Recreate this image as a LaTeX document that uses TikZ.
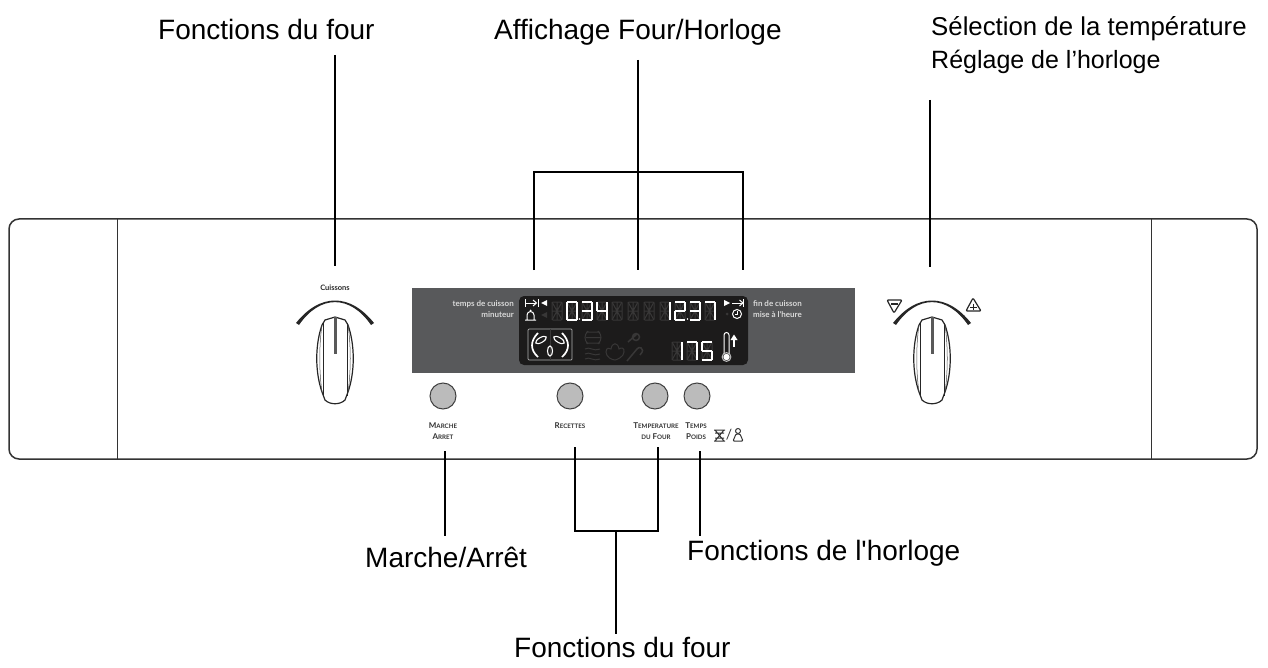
\documentclass[tikz,border=0pt]{standalone}
\usepackage{fontspec}
\setmainfont{Liberation Sans}
\newfontfamily\labelfont{Liberation Sans}
\newfontfamily\panelfont{Lato}
\definecolor{panelgrey}{HTML}{58595B}
\definecolor{screenblack}{HTML}{1C1B1B}
\definecolor{dimseg}{HTML}{383737}
\definecolor{buttongrey}{HTML}{BBBBBB}
\tikzset{
  leader/.style={line width=1.7pt},
  biglabel/.style={anchor=base west,inner sep=0pt,font=\labelfont\fontsize{28}{30}\selectfont},
  smalllabel/.style={biglabel,font=\labelfont\fontsize{25.8}{28}\selectfont},
  screenlabel/.style={inner sep=0pt,text=white!85!black,font=\panelfont\bfseries\fontsize{8}{9}\selectfont},
  keylabel/.style={inner sep=0pt,text=black!80,font=\panelfont\bfseries\fontsize{8}{9}\selectfont},
  keybutton/.style={circle,minimum size=26pt,inner sep=0pt,draw=black!75,line width=1pt,fill=buttongrey},
  segline/.style={white,line width=1.5pt},
  dimline/.style={dimseg,line width=1pt},
  iconline/.style={white,line width=1pt}
}
\newcommand{\lowc}[1]{{\fontsize{6.2}{7}\selectfont #1}}
% one seven segment digit
\newcommand{\segdigit}[3]{
  \begin{scope}[shift={(#1,#2)}]
    \coordinate (a) at (0,0); \coordinate (b) at (10,0);
    \coordinate (c) at (0,9); \coordinate (d) at (10,9);
    \coordinate (e) at (0,18); \coordinate (f) at (10,18);
    \foreach \p/\q in {#3} \draw[segline] (\p) -- (\q);
  \end{scope}
}
% unlit digit, segments only faintly visible
\newcommand{\dimdigit}[2]{
  \begin{scope}[shift={(#1,#2)}]
    \draw[dimline,rounded corners=1pt] (0,0) rectangle (10,18);
    \draw[dimline] (0,9) -- (10,9) (5,0) -- (5,18) (0,0) -- (10,18) (10,0) -- (0,18);
  \end{scope}
}
\newcommand{\panelknob}[1]{
  \begin{scope}[shift={(#1,0)}]
    \fill[black!85] (-39,323) .. controls (-15,293) and (15,293) .. (39,323) -- (36,325)
      .. controls (15,294.5) and (-15,294.5) .. (-36,325) -- cycle;
    \draw[line width=1.2pt,black!85,line join=round] (0,317) -- (10,320) -- (13,325)
      .. controls (20,345) and (20,372) .. (13,392) -- (10,400) .. controls (5,405) and (-5,405) .. (-10,400)
      -- (-13,392) .. controls (-20,372) and (-20,345) .. (-13,325) -- (-10,320) -- cycle;
    \draw[line width=.9pt,black!85] (-12,323) -- (-12,396) (12,323) -- (12,396);
    \draw[line width=.5pt,black!70] (-13,325) .. controls (-16,345) and (-16,372) .. (-13,392)
      (13,325) .. controls (16,345) and (16,372) .. (13,392);
    \draw[line width=3pt,black!65] (0,317) -- (0,354);
  \end{scope}
}
\begin{document}
\begin{tikzpicture}[x=1pt,y=-1pt]
  \useasboundingbox (0,0) rectangle (1268,668);

  % control panel
  \draw[line width=1.5pt,black!80,rounded corners=10pt] (9,219) rectangle (1257,459);
  \draw[line width=1pt,black!80] (117,219) -- (117,459);
  \draw[line width=1pt,black!80] (1151,219) -- (1151,459);

  \fill[panelgrey] (412,288) rectangle (855,373);
  \fill[screenblack,rounded corners=5pt] (519,296) rectangle (748,365);

  \node[screenlabel,anchor=east] (cuisson) at (514,304) {temps de cuisson};
  \node[screenlabel,anchor=east] (minuteur) at (514,315) {minuteur};
  \node[screenlabel,anchor=west] (fincuisson) at (753,304) {fin de cuisson};
  \node[screenlabel,anchor=west] (miseheure) at (753,315) {mise à l'heure};

  % upper row of digits
  \foreach \xpos in {552,612,628,644,660} \dimdigit{\xpos}{302};
  \foreach \xpos in {567,582,597,675,690,705} \dimdigit{\xpos}{302};
  \segdigit{567}{302}{a/b,b/d,d/f,f/e,e/c,c/a}
  \segdigit{582}{302}{a/b,b/d,d/f,f/e,c/d}
  \segdigit{597}{302}{a/c,c/d,b/d,d/f}
  \segdigit{660}{302}{b/d,d/f}
  \segdigit{675}{302}{a/b,b/d,d/c,c/e,e/f}
  \segdigit{690}{302}{a/b,b/d,d/f,f/e,c/d}
  \segdigit{705}{302}{a/b,b/d,d/f}
  \fill[white] (579.5,319) circle (.8) (687.5,319) circle (.8);

  % lower row of digits
  \foreach \xpos in {672,687,702} \dimdigit{\xpos}{342};
  \segdigit{672}{342}{b/d,d/f}
  \segdigit{687}{342}{a/b,b/d,d/f}
  \segdigit{702}{342}{b/a,a/c,c/d,d/f,f/e}

  % symbols left of the digits
  \draw[iconline] (525,299) -- (525,307) (538,299) -- (538,307) (525,303) -- (536,303);
  \draw[iconline] (533,300) -- (536.5,303) -- (533,306);
  \fill[white] (547,300) -- (547,306) -- (541,303) -- cycle;
  \fill[dimseg] (547,312) -- (547,318) -- (541,315) -- cycle;
  \draw[iconline] (525,320) -- (536,320) (527,320) -- (527,315) arc[start angle=180,end angle=360,radius=3.5] -- (534,320);
  \fill[white] (530.5,310.5) circle (1);

  % symbols right of the digits
  \fill[white] (724,300) -- (724,306) -- (730,303) -- cycle;
  \draw[iconline] (732,303) -- (743,303) (743,299) -- (743,307);
  \draw[iconline] (739.5,300) -- (743,303) -- (739.5,306);
  \draw[iconline] (737,314) circle (4.5);
  \draw[iconline,line width=.7pt] (737,311) -- (737,314.5) -- (734.5,314.5);
  \fill[dimseg] (727,314) circle (1.5);

  % thermometer
  \draw[white,line width=1pt] (724,354) -- (724,335) arc[start angle=180,end angle=360,radius=2.5] -- (729,354);
  \draw[white!75!black,line width=1pt] (726.5,357) circle (4.4);
  \fill[white] (726.5,357) circle (3.2);
  \draw[white,line width=1.4pt] (734,347) -- (734,339);
  \fill[white] (730.5,340) -- (734,334.5) -- (737.5,340) -- cycle;

  % program window with the fan
  \draw[white!70!black,line width=.7pt,rounded corners=1pt] (528,329) rectangle (572,360);
  \draw[dimline] (550,329) -- (550,360);
  \draw[white,line width=1.7pt] (538,333) .. controls (530,341) and (530,350) .. (538,357);
  \draw[white,line width=1.7pt] (562,333) .. controls (570,341) and (570,350) .. (562,357);
  \draw[white,line width=1.1pt,rotate around={30:(541,340)}] (541,340) ellipse (6 and 2.5);
  \draw[white,line width=1.1pt,rotate around={-30:(559,340)}] (559,340) ellipse (6 and 2.5);
  \draw[white,line width=1.1pt] (550,351) ellipse (2.5 and 5);

  % oven mode symbols, not lit
  \draw[dimline] (586,332) -- (600,332) (586,343) -- (600,343) (586,337.5) -- (600,337.5)
    (588,331) .. controls (584,335) and (584,340) .. (588,344) (598,331) .. controls (602,335) and (602,340) .. (598,344);
  \foreach \ypos in {349,354,359}
    \draw[dimline] (585,\ypos) .. controls (589,\ypos-3) and (594,\ypos+3) .. (600,\ypos);
  \draw[dimline] (606,352) .. controls (606,347) and (610,348) .. (611,349) .. controls (612,342) and (618,342) .. (619,349)
    .. controls (621,347) and (625,348) .. (624,352) .. controls (624,357) and (616,360) .. (615,360)
    .. controls (612,360) and (606,357) .. (606,352) -- cycle;
  \draw[dimseg,line width=1.5pt] (628,342) -- (637,334) (636,337) circle (3.5);
  \draw[dimseg,line width=1.5pt] (627,361) -- (637,349) arc[start angle=210,end angle=400,radius=3] -- (640,355);

  % keys
  \node[keybutton] (marche) at (443,396) {};
  \node[keybutton] (recettes) at (570,396) {};
  \node[keybutton] (temperature) at (655,396) {};
  \node[keybutton] (temps) at (697,396) {};

  \node[keylabel] (marchetxt) at (443,426) {M\lowc{ARCHE}};
  \node[keylabel] (arrettxt) at (443,437) {A\lowc{RRET}};
  \node[keylabel] (recettestxt) at (570,426) {R\lowc{ECETTES}};
  \node[keylabel] (temperaturetxt) at (656,426) {T\lowc{EMPERATURE}};
  \node[keylabel] (dufourtxt) at (656,437) {\lowc{DU} F\lowc{OUR}};
  \node[keylabel] (tempstxt) at (696,426) {T\lowc{EMPS}};
  \node[keylabel] (poidstxt) at (696,437) {P\lowc{OIDS}};
  \node[keylabel,font=\panelfont\fontsize{14}{14}\selectfont] (slash) at (729,435) {/};

  % hourglass and weight
  \draw[line width=1pt,black!80] (714,430) -- (725,430) (714,441) -- (725,441)
    (715,430) -- (724,441) (724,430) -- (715,441) (715,433) -- (724,433) (715,438) -- (724,438);
  \draw[line width=1pt,black!80,rounded corners=1pt] (733,441) -- (743,441) -- (740,434) -- (736,434) -- cycle;
  \draw[line width=1pt,black!80] (738,431) circle (2.5);

  % knobs
  \panelknob{335}
  \panelknob{932}
  \node[keylabel,text=black!85,font=\panelfont\bfseries\fontsize{7.5}{9}\selectfont] (cuissons) at (335,288) {Cuissons};
  \draw[line width=1.2pt,black!85,rounded corners=1pt,line join=round] (887,300) -- (902,300) -- (894,313) -- cycle;
  \draw[line width=1.5pt,black!85] (891,304) -- (898,304);
  \draw[line width=1.2pt,black!85,rounded corners=1pt,line join=round] (973,298) -- (981,311) -- (966,311) -- cycle;
  \draw[line width=1pt,black!85] (970,307) -- (977,307) (973.5,303.5) -- (973.5,310);

  % labels above
  \node[biglabel] (fourhaut) at (158,40) {Fonctions du four};
  \node[biglabel] (affichage) at (494,40) {Affichage Four/Horloge};
  \node[smalllabel] (selection) at (931,36) {Sélection de la température};
  \node[smalllabel,font=\labelfont\fontsize{25}{28}\selectfont] (reglage) at (931,69) {Réglage de l’horloge};

  \coordinate (fourbegin) at (335,55);
  \coordinate (fourend) at (335,266);
  \draw[leader] (fourbegin) -- (fourend);

  \coordinate (affbegin) at (638,60);
  \coordinate (affmid) at (638,172);
  \coordinate (affleft) at (534,172);
  \coordinate (affright) at (743,172);
  \coordinate (affleftend) at (534,270);
  \coordinate (affmidend) at (638,270);
  \coordinate (affrightend) at (743,270);
  \draw[leader] (affbegin) -- (affmidend);
  \draw[leader] (affleftend) -- (affleft) -- (affright) -- (affrightend);

  \coordinate (tempbegin) at (930,100);
  \coordinate (tempend) at (930,267);
  \draw[leader] (tempbegin) -- (tempend);

  % labels below
  \node[biglabel] (marchebas) at (365,567) {Marche/Arrêt};
  \node[biglabel] (horlogebas) at (687,560) {Fonctions de l'horloge};
  \node[biglabel] (fourbas) at (514,657) {Fonctions du four};

  \coordinate (marchebegin) at (445,451);
  \coordinate (marcheend) at (445,536);
  \draw[leader] (marchebegin) -- (marcheend);

  \coordinate (horlogebegin) at (700,451);
  \coordinate (horlogeend) at (700,536);
  \draw[leader] (horlogebegin) -- (horlogeend);

  \coordinate (recbegin) at (575,447);
  \coordinate (recbottom) at (575,531);
  \coordinate (tempbottom) at (658,531);
  \coordinate (fourtop) at (658,447);
  \coordinate (fourmid) at (616,531);
  \coordinate (fourbottom) at (616,634);
  \draw[leader] (recbegin) -- (recbottom) -- (tempbottom) -- (fourtop);
  \draw[leader] (fourmid) -- (fourbottom);
\end{tikzpicture}
\end{document}
